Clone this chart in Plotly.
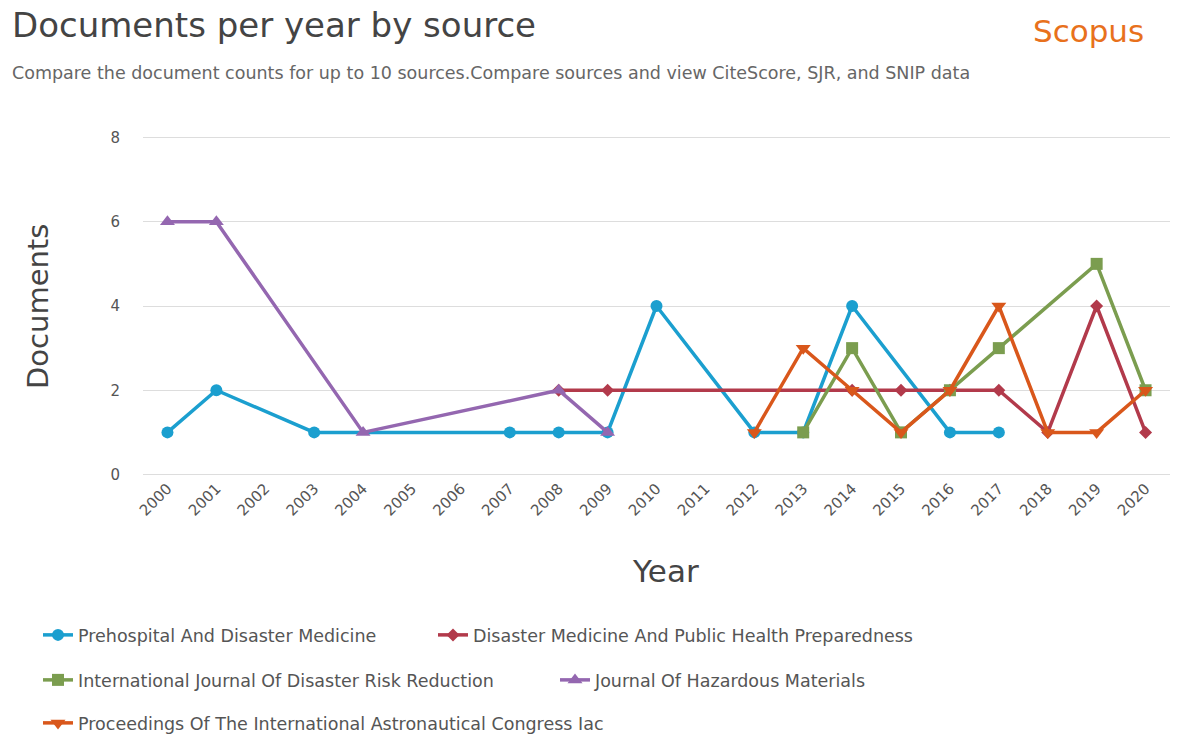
import plotly.graph_objects as go

years = [str(y) for y in range(2000, 2021)]

series_names = [
    "Prehospital And Disaster Medicine",
    "Disaster Medicine And Public Health Preparedness",
    "International Journal Of Disaster Risk Reduction",
    "Journal Of Hazardous Materials",
    "Proceedings Of The International Astronautical Congress Iac",
]

prehospital = {"2000": 1, "2001": 2, "2003": 1, "2007": 1, "2008": 1, "2009": 1,
               "2010": 4, "2012": 1, "2013": 1, "2014": 4, "2016": 1, "2017": 1}
disaster_med = {"2008": 2, "2009": 2, "2014": 2, "2015": 2, "2016": 2, "2017": 2,
                "2018": 1, "2019": 4, "2020": 1}
intl_journal = {"2013": 1, "2014": 3, "2015": 1, "2016": 2, "2017": 3, "2019": 5, "2020": 2}
hazardous = {"2000": 6, "2001": 6, "2004": 1, "2008": 2, "2009": 1}
proceedings = {"2012": 1, "2013": 3, "2014": 2, "2015": 1, "2016": 2, "2017": 4,
               "2018": 1, "2019": 1, "2020": 2}

series_data = [prehospital, disaster_med, intl_journal, hazardous, proceedings]
colors = ["#1b9fcf", "#b23a4b", "#7b9d4f", "#9467b0", "#d9571b"]
symbols = ["circle", "diamond", "square", "triangle-up", "triangle-down"]
marker_sizes = [12, 10, 12, 13, 13]

# The page body has an 8px margin: work in window pixels and shift.
OFF = 8
W, H = 1190 - OFF, 735 - OFF
FONT = "DejaVu Sans"
# plot area in window pixels (slightly padded so the 0 and 8 gridlines show)
PAD = 1.5
PX0, PX1, PY0, PY1 = 143, 1170, 137 - PAD, 475 + PAD
ML, MR, MT, MB = PX0 - OFF, W - (PX1 - OFF), PY0 - OFF, H - (PY1 - OFF)
PW, PH = PX1 - PX0, PY1 - PY0
YPAD = PAD * 8 / 338.0

# legend placement (window pixel coords of left edge / vertical middle)
legend_pos = [(38, 635), (433, 635), (38, 680), (555, 680), (38, 723)]

fig = go.Figure()
for i, (name, d) in enumerate(zip(series_names, series_data)):
    xs = [y for y in years if y in d]
    ys = [d[y] for y in xs]
    lg = "legend" if i == 0 else f"legend{i+1}"
    fig.add_trace(go.Scatter(
        x=xs, y=ys, name=name, mode="lines+markers",
        line=dict(color=colors[i], width=3.5),
        marker=dict(color=colors[i], symbol=symbols[i], size=marker_sizes[i]),
        legend=lg,
    ))

layout_legends = {}
for i, (px, py) in enumerate(legend_pos):
    key = "legend" if i == 0 else f"legend{i+1}"
    layout_legends[key] = dict(
        x=(px - OFF) / W, y=1 - (py - OFF) / H, xref="container", yref="container",
        xanchor="left", yanchor="middle", bgcolor="rgba(0,0,0,0)",
        font=dict(family=FONT, size=17.5, color="#555555"),
        itemwidth=30,
    )

fig.update_layout(
    width=W, height=H,
    paper_bgcolor="white", plot_bgcolor="white",
    margin=dict(l=ML, r=MR, t=MT, b=MB, autoexpand=False),
    showlegend=True,
    font=dict(family=FONT, color="#555555"),
    **layout_legends,
)

fig.update_xaxes(
    type="category", categoryorder="array", categoryarray=years,
    tickvals=years, ticktext=years,
    range=[-0.5, 20.5], tickangle=-45, showgrid=False, showline=False,
    zeroline=False, ticks="", tickfont=dict(family=FONT, size=15, color="#555555"),
)
fig.update_yaxes(
    range=[-YPAD, 8 + YPAD], tickvals=[0, 2, 4, 6, 8], showgrid=True, gridcolor="#dddddd",
    gridwidth=1, zeroline=False, showline=False, ticks="", ticklabelstandoff=22,
    tickfont=dict(family=FONT, size=15, color="#555555"),
)


def px_x(px):
    return (px - PX0) / PW


def px_y(py):
    return 1 - (py - PY0) / PH


def add_text(text, x, y, size, color, xanchor="left", angle=0):
    fig.add_annotation(
        text=text, xref="x domain", yref="y domain", x=px_x(x), y=px_y(y),
        xanchor=xanchor, yanchor="middle", showarrow=False, textangle=angle,
        font=dict(family=FONT, size=size, color=color),
    )


add_text("Documents per year by source", 10, 24, 34, "#444444")
add_text("Compare the document counts for up to 10 sources.Compare sources and view CiteScore, SJR, and SNIP data",
         10, 72, 17.5, "#666666")
add_text("Scopus", 1146, 30, 31, "#e8711c", xanchor="right")
add_text("Year", 665, 572, 31, "#444444", xanchor="center")
add_text("Documents", 38, 307, 29, "#444444", xanchor="center", angle=-90)

fig.write_html("out.html")
